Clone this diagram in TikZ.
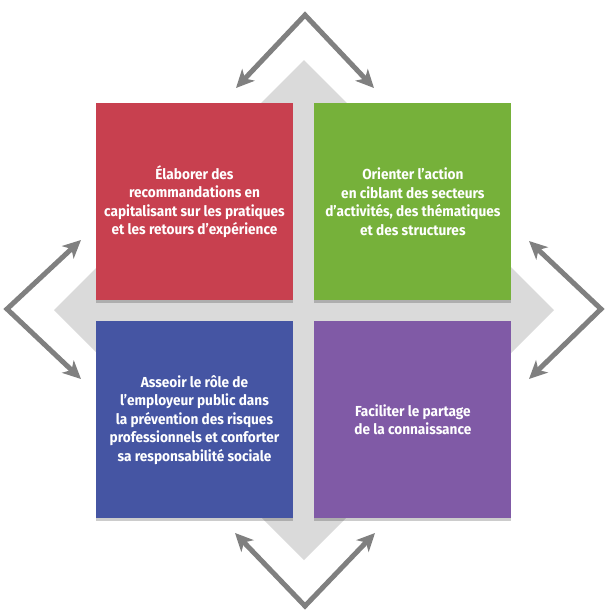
\documentclass[tikz,border=0pt]{standalone}
\usepackage{fontspec}
\setmainfont{Fira Sans}[FakeStretch=0.94]
\usetikzlibrary{positioning}
\usetikzlibrary{arrows.meta,shadows}

\definecolor{boxred}{HTML}{C8404F}
\definecolor{boxgreen}{HTML}{76B13A}
\definecolor{boxblue}{HTML}{4555A3}
\definecolor{boxpurple}{HTML}{805AA6}
\definecolor{arrowgrey}{HTML}{808080}
\definecolor{diamondgrey}{HTML}{DADADA}

\begin{document}
\begin{tikzpicture}[x=1pt,y=-1pt,>={Stealth[length=18pt,width=17pt,inset=5pt]},
                node distance=21pt,
                box/.style={rectangle,minimum size=197pt,inner sep=0pt,text=white,
                  align=center,font=\bfseries\fontsize{14.5}{18.5}\selectfont,
                  drop shadow={shadow xshift=0pt,shadow yshift=-3pt,opacity=0.2,fill=black}},
                link/.style={<->,draw=arrowgrey,line width=5pt}]

  \useasboundingbox (0,0) rectangle (611,614);

  % grey diamond behind the squares
  \fill[diamondgrey] (304,60) -- (554,310) -- (304,560) -- (54,310) -- cycle;

  \node[box,fill=boxred] (elab) at (194.5,201.5)
    {Élaborer des\\recommandations en\\capitalisant sur les pratiques\\et les retours d’expérience};
  \node[box,fill=boxgreen] (orient) [right=of elab]
    {Orienter l’action\\en ciblant des secteurs\\d’activités, des thématiques\\et des structures};
  \node[box,fill=boxblue] (asseoir) [below=of elab]
    {Asseoir le rôle de\\l’employeur public dans\\la prévention des risques\\professionnels et conforter\\sa responsabilité sociale};
  \node[box,fill=boxpurple] (partage) [below=of orient]
    {Faciliter le partage\\de la connaissance};

  % chevrons
  \coordinate (top) at (305,15);
  \coordinate (topl) at (236,88);
  \coordinate (topr) at (374,88);
  \coordinate (left) at (7,309);
  \coordinate (leftu) at (81,240);
  \coordinate (leftd) at (81,379);
  \coordinate (right) at (601,309);
  \coordinate (rightu) at (529,241);
  \coordinate (rightd) at (529,379);
  \coordinate (bottom) at (305,606);
  \coordinate (bottoml) at (235,533);
  \coordinate (bottomr) at (375,533);

  \draw[link] (topl) -- (top) -- (topr);
  \draw[link] (leftu) -- (left) -- (leftd);
  \draw[link] (rightu) -- (right) -- (rightd);
  \draw[link] (bottoml) -- (bottom) -- (bottomr);
\end{tikzpicture}
\end{document}
